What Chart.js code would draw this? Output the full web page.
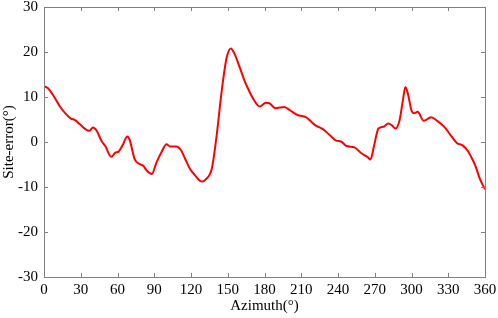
<!DOCTYPE html>
<html>
<head>
<meta charset="utf-8">
<script src="https://cdn.jsdelivr.net/npm/chart.js@4"></script>
<style>
  html, body { margin: 0; padding: 0; background: #fff; }
  #wrap { width: 498px; height: 318px; }
</style>
</head>
<body>
<div id="wrap"><canvas id="myChart" width="498" height="318"></canvas></div>
<script>
const azimuth = [0, 3, 7, 13, 18, 22, 25, 29, 34, 37, 40, 43, 47, 50, 55, 58, 61, 64, 68, 70,
    74, 78, 81, 84, 88, 92, 96, 100, 103, 108, 112, 115, 119, 123, 129, 132, 137, 141, 145, 149,
    152.5, 156, 160, 164, 167, 171, 176, 181, 184, 189, 196, 200, 207, 214, 221, 228, 233, 238.5, 242.5, 247,
    253.5, 259, 264, 266.5, 269.3, 273, 277, 281, 284, 287, 290.3, 293, 295, 297, 300, 302, 305, 310, 316, 321,
    327, 332.5, 337, 342, 346, 350, 352, 356, 360];
const siteError = [12.4, 12.0, 10.6, 7.9, 6.2, 5.2, 4.9, 4.0, 2.8, 2.5, 3.2, 2.5, 0.2, -0.9, -3.3, -2.4, -2.1, -0.8, 1.2, 0.4,
    -3.8, -4.9, -5.3, -6.4, -7.1, -4.4, -2.2, -0.5, -1.0, -1.0, -1.9, -3.6, -5.9, -7.3, -8.8, -8.3, -5.9, 1.6, 11.2, 18.6,
    20.8, 19.3, 16.4, 13.4, 11.6, 9.5, 7.9, 8.7, 8.6, 7.5, 7.8, 7.2, 6.0, 5.5, 3.8, 2.8, 1.6, 0.3, 0.1, -0.9,
    -1.2, -2.5, -3.3, -3.9, -1.0, 3.0, 3.4, 4.1, 3.7, 3.0, 4.9, 9.3, 12.2, 10.8, 7.0, 6.4, 6.7, 4.7, 5.5, 4.7,
    3.3, 1.3, -0.2, -0.8, -2.0, -4.0, -5.2, -8.3, -10.5];

const xTicks = [0, 30, 60, 90, 120, 150, 180, 210, 240, 270, 300, 330, 360];
const yTicks = [-30, -20, -10, 0, 10, 20, 30];

const points = azimuth.map((a, i) => ({ x: a, y: siteError[i] }));

const axisColor = '#808080';
const font = { family: '"Liberation Serif", "Times New Roman", serif', size: 15 };

// frame with inward ticks on all four sides
const frame = {
    id: 'frame',
    afterDraw(chart) {
        const { ctx, chartArea: a, scales } = chart;
        ctx.save();
        ctx.strokeStyle = axisColor;
        ctx.lineWidth = 1;
        ctx.strokeRect(a.left + 0.5, a.top + 0.5, a.right - a.left, a.bottom - a.top);
        ctx.beginPath();
        xTicks.forEach(v => {
            const px = Math.round(scales.x.getPixelForValue(v)) + 0.5;
            ctx.moveTo(px, a.bottom); ctx.lineTo(px, a.bottom - 4);
            ctx.moveTo(px, a.top); ctx.lineTo(px, a.top + 4);
        });
        yTicks.forEach(v => {
            const py = Math.round(scales.y.getPixelForValue(v)) + 0.5;
            ctx.moveTo(a.left, py); ctx.lineTo(a.left + 4, py);
            ctx.moveTo(a.right, py); ctx.lineTo(a.right - 4, py);
        });
        ctx.stroke();
        ctx.restore();
    }
};

new Chart(document.querySelector('#myChart'), {
    type: 'line',
    data: {
        datasets: [{
            data: points,
            borderColor: '#ff0000',
            borderWidth: 2,
            pointRadius: 0,
            fill: false,
            cubicInterpolationMode: 'monotone'
        }]
    },
    options: {
        responsive: false,
        animation: false,
        layout: { padding: { top: 7, right: 13, left: 0, bottom: 0 } },
        plugins: { legend: { display: false }, tooltip: { enabled: false } },
        scales: {
            x: {
                type: 'linear',
                min: 0, max: 360,
                afterBuildTicks: s => { s.ticks = xTicks.map(v => ({ value: v })); },
                afterFit: s => { s.height = 41; s.paddingLeft = 0; s.paddingRight = 0; },
                ticks: { color: '#000', font, padding: 4, maxRotation: 0 },
                grid: { display: false, drawTicks: false },
                border: { display: false },
                title: { display: true, text: 'Azimuth(°)', color: '#000', font, padding: { top: 0, bottom: 3 } }
            },
            y: {
                min: -30, max: 30,
                afterBuildTicks: s => { s.ticks = yTicks.map(v => ({ value: v })); },
                afterFit: s => { s.width = 44; s.paddingTop = 0; s.paddingBottom = 0; },
                ticks: { color: '#000', font, padding: 6 },
                grid: { display: false, drawTicks: false },
                border: { display: false },
                title: { display: true, text: 'Site-error(°)', color: '#000', font, padding: { top: 0, bottom: 0 } }
            }
        }
    },
    plugins: [frame]
});
</script>
</body>
</html>
